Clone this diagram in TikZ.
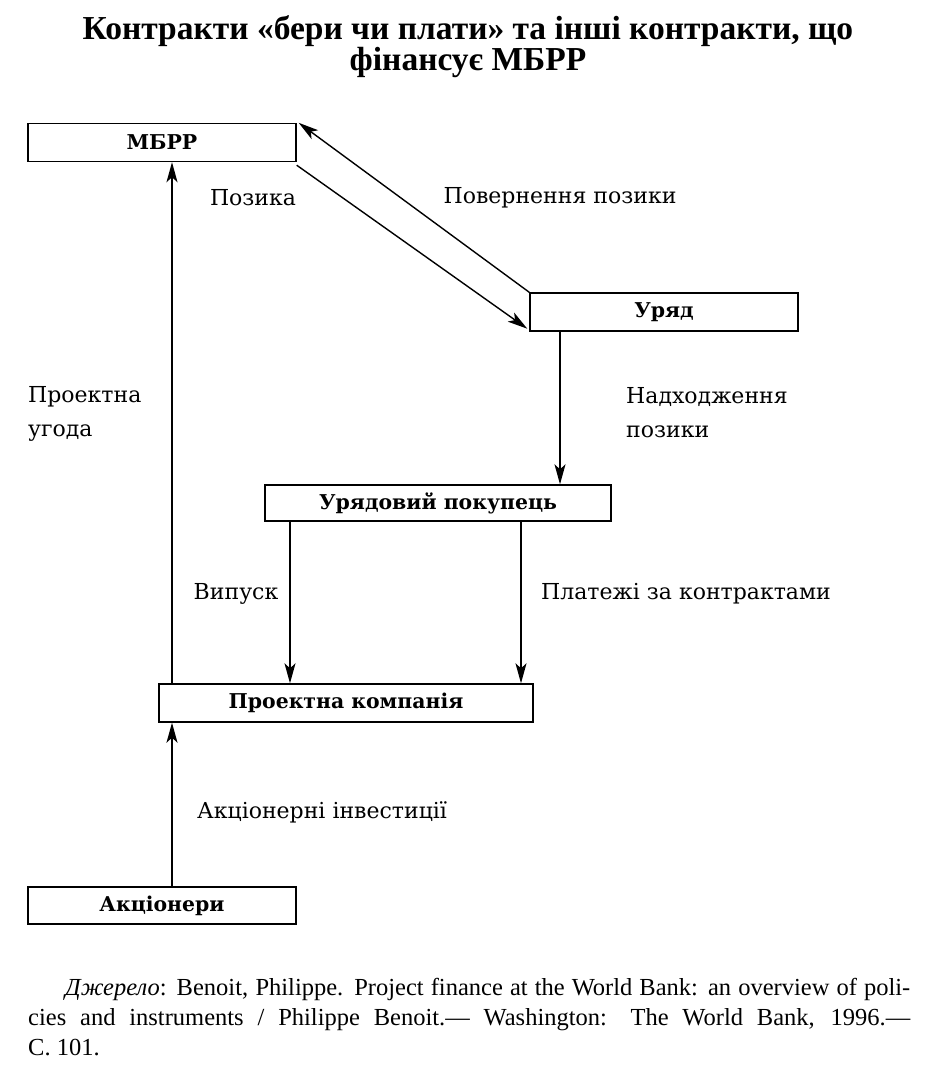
\documentclass[tikz,border=0pt]{standalone}
\usepackage{fontspec}
\setmainfont{DejaVu Serif}
\newfontfamily\titlefont{Liberation Serif}
\newfontfamily\srcfont{Liberation Serif}
\usetikzlibrary{arrows.meta}
\begin{document}
\begin{tikzpicture}[x=1pt,y=-1pt,
  box/.style={draw,line width=1.4pt,minimum height=38pt,inner sep=0pt,font=\fontsize{20.4}{22}\selectfont\bfseries},
  lbl/.style={font=\fontsize{22}{34}\selectfont,inner sep=0pt},
  arr/.style={line width=1.4pt,-{Stealth[length=20pt,width=11pt,inset=5pt]}}]
\useasboundingbox (0,0) rectangle (947,1080);
\node[font=\titlefont\fontsize{33.5}{31}\selectfont\bfseries,align=center] (title) at (468,47) {Контракти «бери чи плати» та інші контракти, що\\фінансує МБРР};
\node[box,minimum width=268pt] (mbrr) at (162,142.5) {МБРР};
\node[box,minimum width=268pt] (uryad) at (664,312) {Уряд};
\node[box,minimum width=346pt,minimum height=36pt] (buyer) at (438,503) {Урядовий покупець};
\node[box,minimum width=374pt] (comp) at (346,703) {Проектна компанія};
\node[box,minimum width=268pt,minimum height=37pt] (share) at (162,905.5) {Акціонери};
% connectors
\draw[arr] (comp.north -| 172,0) -- (mbrr.south -| 172,0);
\draw[arr] (share.north -| 172,0) -- (comp.south -| 172,0);
\draw[arr] (uryad.south -| 560,0) -- (buyer.north -| 560,0);
\draw[arr] (buyer.south -| 290,0) -- (comp.north -| 290,0);
\draw[arr] (buyer.south -| 521,0) -- (comp.north -| 521,0);
\coordinate (m1) at ([yshift=-3pt]mbrr.south east);
\coordinate (u1) at ([xshift=-2pt,yshift=3pt]uryad.south west);
\draw[arr] (m1) -- (u1);
\draw[arr] (uryad.north west) -- ([xshift=2pt]mbrr.north east);
% labels
\node[lbl] (l1) at (253,198) {Позика};
\node[lbl] (l2) at (560,198) {Повернення позики};
\node[lbl,align=left,anchor=west] (l3) at (28,414) {Проектна\\угода};
\node[lbl,align=left,anchor=west] (l4) at (626,413) {Надходження\\позики};
\node[lbl] (l5) at (236,594) {Випуск};
\node[lbl,anchor=west] (l6) at (541,594) {Платежі за контрактами};
\node[lbl,anchor=west] (l7) at (197,812) {Акціонерні інвестиції};
\node[font=\srcfont\fontsize{24.5}{30}\selectfont,text width=882pt,align=justify,inner sep=0pt,anchor=north west] (src) at (28,978) {\hspace*{37pt}\textit{Джерело}: Benoit, Philippe. Project finance at the World Bank: an overview of poli-\linebreak cies and instruments / Philippe Benoit.— Washington: The World Bank, 1996.—\linebreak С. 101.};
\end{tikzpicture}
\end{document}
